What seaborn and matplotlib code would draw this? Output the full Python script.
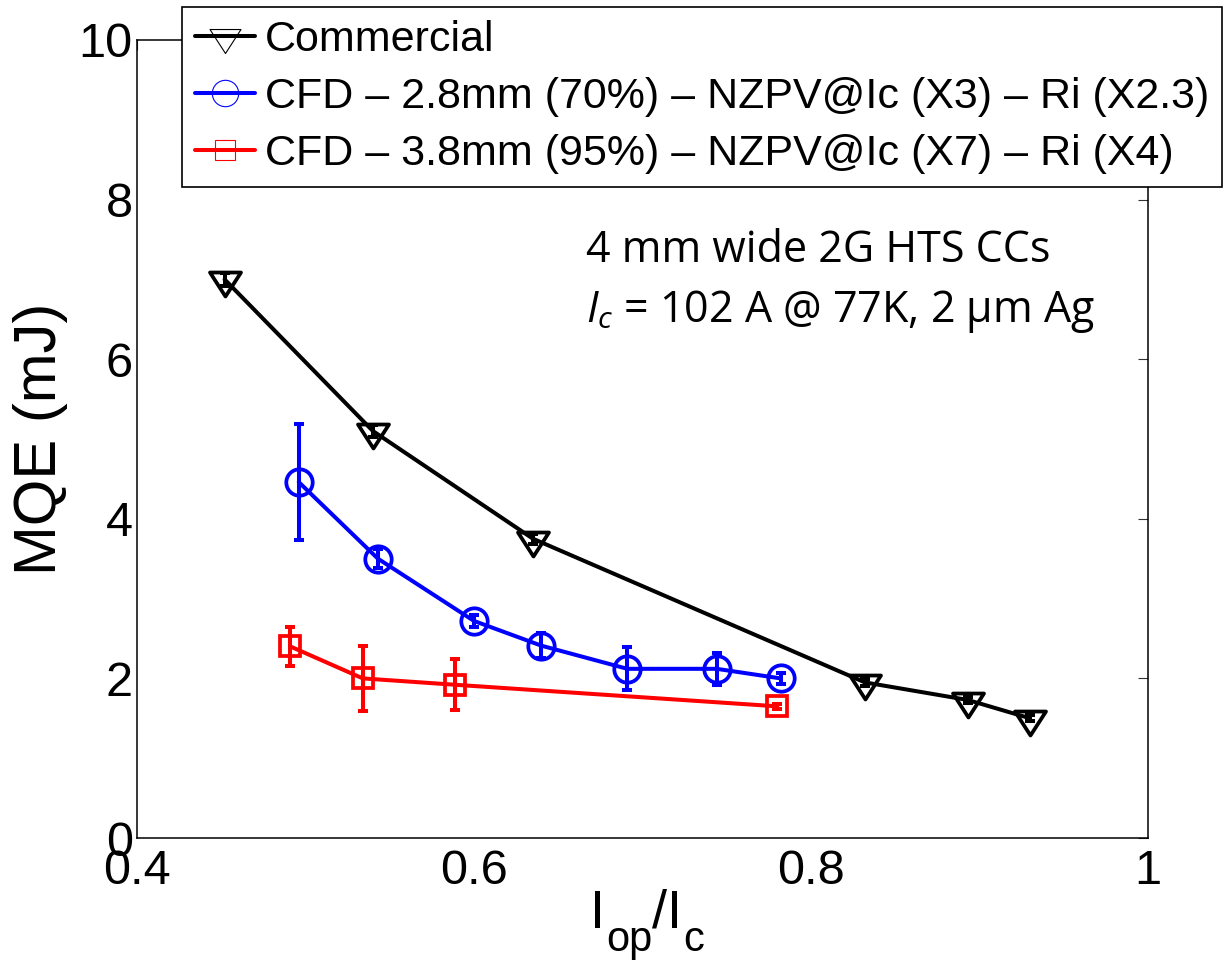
import numpy as np
import pandas as pd
import matplotlib
matplotlib.use("Agg")
import matplotlib.pyplot as plt
import seaborn as sns
from matplotlib.lines import Line2D
from matplotlib.path import Path

# ---- data -------------------------------------------------------------
labels = [
    "Commercial",
    "CFD – 2.8mm (70%) – NZPV@Ic (X3) – Ri (X2.3)",
    "CFD – 3.8mm (95%) – NZPV@Ic (X7) – Ri (X4)",
]

commercial_x = [0.452, 0.540, 0.635, 0.832, 0.893, 0.930]
commercial_y = [7.00, 5.10, 3.75, 1.95, 1.73, 1.50]
commercial_err = [0.08, 0.08, 0.06, 0.04, 0.04, 0.04]

cfd28_x = [0.496, 0.543, 0.600, 0.640, 0.691, 0.744, 0.782]
cfd28_y = [4.46, 3.50, 2.72, 2.41, 2.12, 2.12, 2.00]
cfd28_err = [0.73, 0.12, 0.07, 0.16, 0.27, 0.20, 0.07]

cfd38_x = [0.491, 0.534, 0.589, 0.780]
cfd38_y = [2.40, 2.00, 1.92, 1.65]
cfd38_err = [0.24, 0.41, 0.32, 0.03]

x_ticks = [0.4, 0.6, 0.8, 1.0]
x_ticklabels = ["0.4", "0.6", "0.8", "1"]
y_ticks = [0, 2, 4, 6, 8, 10]

note_line1 = "4 mm wide 2G HTS CCs"
note_line2 = r"$\mathit{I}_{\mathit{c}}$ = 102 A @ 77K, 2 μm Ag"
ylabel_text = "MQE (mJ)"

# ---- style ------------------------------------------------------------
sns.set_style("white")
plt.rcParams["font.family"] = ["Liberation Sans", "DejaVu Sans"]
plt.rcParams["mathtext.fontset"] = "custom"
plt.rcParams["mathtext.rm"] = "Liberation Sans"
plt.rcParams["mathtext.it"] = "Open Sans:italic"
plt.rcParams["mathtext.default"] = "rm"
for key in ["text.color", "axes.labelcolor", "xtick.color", "ytick.color",
            "xtick.labelcolor", "ytick.labelcolor"]:
    plt.rcParams[key] = "black"

# wide, flat down-pointing triangle with its reference point near the top
tri_verts = [(-0.91, 0.41), (0.91, 0.41), (0.0, -1.0), (-0.91, 0.41)]
tri_marker = Path(tri_verts, [Path.MOVETO, Path.LINETO, Path.LINETO, Path.CLOSEPOLY])

series = [
    dict(x=commercial_x, y=commercial_y, err=commercial_err, color="black",
         marker=tri_marker, ms=24.5, label=labels[0]),
    dict(x=cfd28_x, y=cfd28_y, err=cfd28_err, color="#0000ff",
         marker="o", ms=19.0, label=labels[1]),
    dict(x=cfd38_x, y=cfd38_y, err=cfd38_err, color="#ff0000",
         marker="s", ms=14.5, label=labels[2]),
]

W, H = 1224, 966
fig = plt.figure(figsize=(W / 100, H / 100), dpi=100)
ax = fig.add_axes([137 / W, 128 / H, (1148 - 137) / W, (838 - 40) / H])

for s in series:
    df = pd.DataFrame({"x": s["x"], "y": s["y"]})
    sns.lineplot(data=df, x="x", y="y", ax=ax, sort=False, color=s["color"],
                 lw=2.9, marker=s["marker"], markersize=s["ms"],
                 markerfacecolor="none", markeredgecolor=s["color"],
                 markeredgewidth=2.7, legend=False, zorder=3)
    ax.errorbar(s["x"], s["y"], yerr=s["err"], fmt="none", ecolor=s["color"],
                elinewidth=2.9, capsize=3.3, capthick=2.9, zorder=4)

ax.set_xlim(0.4, 1.0)
ax.set_ylim(0, 10)
ax.set_xticks(x_ticks)
ax.set_xticklabels(x_ticklabels)
ax.set_yticks(y_ticks)
ax.tick_params(axis="both", which="major", direction="in", length=7, width=0.8,
               labelsize=35, top=True, right=True, color="#333333",
               labelcolor="black")
ax.tick_params(axis="x", pad=8)
ax.tick_params(axis="y", pad=3)
for sp in ax.spines.values():
    sp.set_color("black")
    sp.set_linewidth(1.1)

ax.set_xlabel("")
ax.set_ylabel(ylabel_text, fontsize=43, labelpad=8, color="black")

# x-axis label built from pieces so the subscripts sit well below the baseline
xlabel_parts = [("I", 39, 590, 928), ("op", 30, 606, 951),
                ("/I", 39, 652, 928), ("c", 30, 683, 951)]
for txt, size, px, py in xlabel_parts:
    fig.text(px / W, 1 - py / H, txt, fontsize=size, ha="left", va="baseline",
             color="black")

ax.text(0.6665, 7.22, note_line1, fontsize=31, family="Open Sans",
        va="baseline", color="black")
ax.text(0.6665, 6.47, note_line2, fontsize=31, family="Open Sans",
        va="baseline", color="black")

handles = [
    Line2D([], [], color=s["color"], lw=2.9, marker=s["marker"],
           markersize=s["ms"], markerfacecolor="none",
           markeredgecolor=s["color"], markeredgewidth=0.8)
    for s in series
]
leg = fig.legend(handles, labels, loc="upper right",
                 bbox_to_anchor=(1222 / W, 1 - 7 / H), fontsize=31,
                 frameon=True, fancybox=False, framealpha=1,
                 edgecolor="black", borderpad=0.3, labelspacing=0.4,
                 handlelength=1.4, handletextpad=0.22, borderaxespad=0)
leg.get_frame().set_linewidth(1.2)
for t in leg.get_texts():
    t.set_color("black")

fig.savefig("out.png", dpi=100)
